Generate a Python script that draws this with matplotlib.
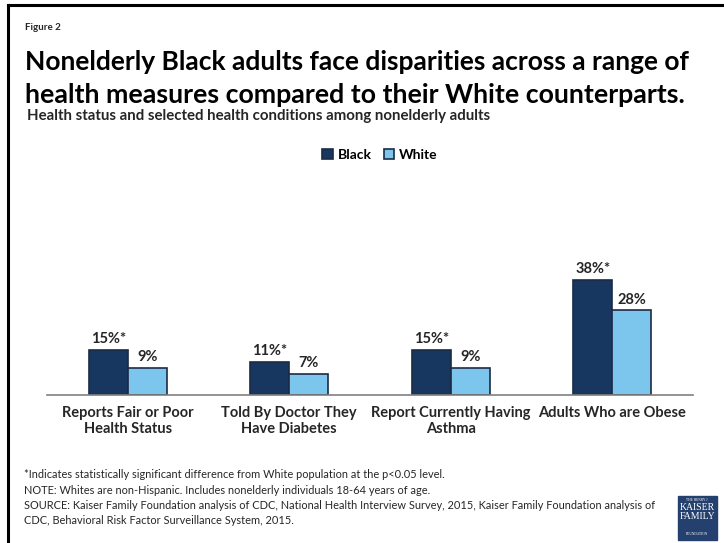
import matplotlib
matplotlib.use("Agg")
import numpy as np
from matplotlib import pyplot as plt
from matplotlib.patches import Rectangle

# データ
categories = ["Reports Fair or Poor\nHealth Status", "Told By Doctor They\nHave Diabetes",
              "Report Currently Having\nAsthma", "Adults Who are Obese"]
black_vals = [15, 11, 15, 38]
white_vals = [9, 7, 9, 28]
black_labels = ["15%*", "11%*", "15%*", "38%*"]
white_labels = ["9%", "7%", "9%", "28%"]

plt.rcParams['font.family'] = ['Lato', 'DejaVu Sans']

navy = "#173660"
light = "#7cc6ee"
edge = "#1c2b45"
txt = "#262626"

fig = plt.figure(figsize=(7.24, 5.43), dpi=100)

# 枠線
fig.add_artist(plt.Line2D([8 / 724, 724 / 724], [1 - 5 / 543, 1 - 5 / 543], color="black", lw=2.2))
fig.add_artist(plt.Line2D([8 / 724, 8 / 724], [0, 1 - 5 / 543], color="black", lw=2.2))

# タイトル
fig.text(25 / 724, 1 - 28 / 543, "Figure 2", fontsize=7, fontweight="bold", color=txt, va="center")
fig.text(25 / 724, 1 - 62 / 543, "Nonelderly Black adults face disparities across a range of",
         fontsize=19, fontweight="bold", color="black", va="center")
fig.text(25 / 724, 1 - 95 / 543, "health measures compared to their White counterparts.",
         fontsize=19.3, fontweight="bold", color="black", va="center")
fig.text(27 / 724, 1 - 116 / 543, "Health status and selected health conditions among nonelderly adults",
         fontsize=10.8, fontweight="bold", color=txt, va="center")

# グラフ
ax = fig.add_axes([47 / 724, 1 - 395 / 543, (693 - 47) / 724, (395 - 170) / 543])
x = np.arange(len(categories))
w = 0.24
b1 = ax.bar(x - w / 2, black_vals, w, color=navy, edgecolor=edge, linewidth=1.2, label="Black")
b2 = ax.bar(x + w / 2, white_vals, w, color=light, edgecolor=edge, linewidth=1.2, label="White")
for rect, lab in zip(b1, black_labels):
    ax.text(rect.get_x() + rect.get_width() / 2, rect.get_height() + 1.2, lab,
            ha="center", va="bottom", fontsize=10.5, fontweight="bold", color=txt)
for rect, lab in zip(b2, white_labels):
    ax.text(rect.get_x() + rect.get_width() / 2, rect.get_height() + 1.2, lab,
            ha="center", va="bottom", fontsize=10.5, fontweight="bold", color=txt)

ax.set_xlim(-0.5, 3.5)
ax.set_ylim(0, 38 * 225 / 115)
ax.set_xticks(x)
ax.set_xticklabels(categories, fontsize=10.5, fontweight="bold", color=txt)
ax.tick_params(axis="x", length=0, pad=8)
ax.set_yticks([])
for s in ["top", "right", "left"]:
    ax.spines[s].set_visible(False)
ax.spines["bottom"].set_color("#808080")
ax.spines["bottom"].set_linewidth(1.2)

leg = fig.legend(handles=[b1, b2], labels=["Black", "White"], loc="center",
                 bbox_to_anchor=(380 / 724, 1 - 155 / 543), ncol=2, frameon=False,
                 prop={"weight": "bold", "size": 10}, handlelength=0.75, handleheight=0.75,
                 handletextpad=0.35, columnspacing=0.9)

# 注記
notes = ["*Indicates statistically significant difference from White population at the p<0.05 level.",
         "NOTE: Whites are non-Hispanic. Includes nonelderly individuals 18-64 years of age.",
         "SOURCE: Kaiser Family Foundation analysis of CDC, National Health Interview Survey, 2015, Kaiser Family Foundation analysis of",
         "CDC, Behavioral Risk Factor Surveillance System, 2015."]
for i, n in enumerate(notes):
    fig.text(24 / 724, 1 - (475 + i * 15.3) / 543, n, fontsize=7.95, color=txt, va="center")

# ロゴ
fig.add_artist(Rectangle((678 / 724, 1 - 540 / 543), 39 / 724, 44 / 543, color="#24406e",
                         transform=fig.transFigure))
fig.text(697.5 / 724, 1 - 500 / 543, "THE HENRY J.", fontsize=2.5, color="white", ha="center",
         va="center", family="Liberation Serif")
fig.text(697.5 / 724, 1 - 512 / 543, "KAISER\nFAMILY", fontsize=7, color="white", ha="center",
         va="center", family="Liberation Serif", linespacing=0.9)
fig.text(697.5 / 724, 1 - 534 / 543, "FOUNDATION", fontsize=2.5, color="white", ha="center",
         va="center", family="Liberation Serif")

fig.savefig("out.png", dpi=100)
